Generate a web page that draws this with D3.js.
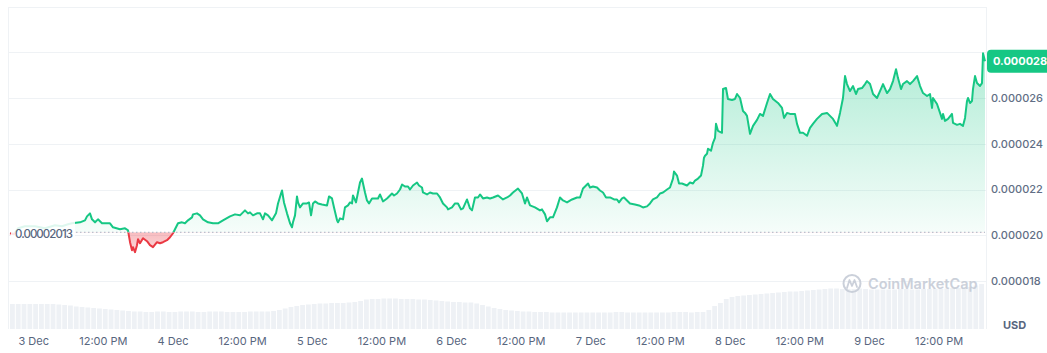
<!DOCTYPE html>
<html lang="en">
<head>
<meta charset="UTF-8">
<title>Price chart</title>
<script src="https://cdn.jsdelivr.net/npm/d3@7"></script>
<style>
  html, body { margin: 0; background: #fff; }
  text { font-family: Inter, "Noto Sans", sans-serif; }
</style>
</head>
<body>
<script>

    const width = 1047;
    const height = 353;

    // hours after 2 Dec 20:00 (UTC) and price in millionths of a USD
    const hours = [
        0, 0.69, 1.38, 2.58, 4.31, 6.03, 7.75, 8.96, 9.99, 10.68,
        12.06, 12.92, 13.27, 13.78, 14.13, 14.65, 15.16, 15.85, 16.71, 17.23,
        17.75, 18.95, 19.82, 20.33, 20.68, 21.02, 21.19, 21.54, 21.88, 22.06,
        22.40, 22.92, 23.61, 24.12, 24.64, 25.33, 25.85, 26.36, 27.05, 27.57,
        28.09, 28.43, 28.95, 29.64, 30.15, 30.67, 31.36, 31.53, 32.22, 32.74,
        33.26, 34.12, 34.98, 35.84, 36.70, 37.91, 38.77, 39.63, 40.49, 41.01,
        41.35, 41.87, 42.56, 43.08, 43.59, 43.94, 44.46, 45.15, 45.83, 46.18,
        46.70, 46.87, 47.21, 47.73, 48.25, 48.59, 48.76, 49.11, 49.45, 49.63,
        49.97, 50.49, 51.18, 51.52, 51.87, 52.21, 52.56, 53.07, 53.76, 54.62,
        54.97, 55.48, 55.83, 56.35, 56.52, 56.86, 57.38, 57.72, 58.24, 58.59,
        58.93, 59.10, 59.62, 59.96, 60.31, 60.65, 60.83, 61.17, 61.51, 61.86,
        62.38, 62.89, 63.41, 63.75, 64.27, 64.96, 65.48, 65.82, 66.17, 66.68,
        67.20, 67.55, 68.06, 68.58, 68.92, 69.44, 70.13, 70.47, 70.99, 71.16,
        71.85, 72.37, 72.89, 73.58, 74.09, 74.61, 75.30, 75.47, 76.16, 76.68,
        77.19, 77.71, 78.06, 78.75, 79.26, 79.61, 80.12, 80.64, 80.99, 81.50,
        82.19, 82.71, 83.23, 84.09, 84.95, 85.64, 86.16, 86.67, 87.53, 88.22,
        88.74, 89.08, 89.60, 90.46, 91.32, 91.67, 92.19, 92.53, 93.05, 93.56,
        94.25, 94.77, 95.29, 95.98, 96.84, 97.70, 98.22, 98.73, 99.08, 99.60,
        99.94, 100.46, 101.15, 101.66, 102.18, 102.70, 103.39, 104.08, 104.59, 104.94,
        105.46, 105.80, 106.31, 106.83, 107.69, 108.38, 109.07, 109.76, 110.28, 110.79,
        111.48, 112.00, 112.52, 113.21, 113.72, 114.24, 114.41, 114.93, 115.28, 115.79,
        116.65, 117.17, 117.69, 118.03, 118.55, 119.07, 119.41, 119.58, 119.76, 120.10,
        120.27, 120.79, 121.13, 121.48, 121.65, 121.99, 122.68, 122.86, 123.37, 123.71,
        124.41, 124.92, 125.27, 125.79, 126.30, 126.65, 126.99, 127.51, 128.03, 128.72,
        129.23, 129.75, 130.44, 130.96, 131.47, 132.33, 133.02, 133.37, 133.88, 134.40,
        135.26, 135.61, 136.12, 136.64, 137.33, 137.85, 138.36, 139.05, 139.92, 140.78,
        141.29, 141.81, 142.50, 143.02, 143.53, 143.88, 144.22, 144.74, 145.26, 145.77,
        146.12, 146.81, 147.33, 147.67, 148.19, 148.71, 149.39, 149.91, 150.43, 151.12,
        151.63, 152.15, 152.67, 153.01, 153.53, 153.87, 154.56, 155.08, 155.60, 156.29,
        156.81, 157.32, 158.01, 158.53, 158.87, 159.04, 159.73, 160.25, 160.59, 160.77,
        161.11, 161.63, 162.31, 162.49, 163.18, 163.69, 164.21, 164.56, 164.90, 165.07,
        165.42, 165.76, 165.93, 166.28, 166.62, 167.14, 167.48, 167.66, 168.00
    ];

    const priceMicro = [
        20.087, 20.043, 20.304, 20.391, 20.391, 20.304, 20.435, 20.391, 20.478, 20.522,
        20.565, 20.652, 20.826, 20.957, 20.696, 20.565, 20.696, 20.522, 20.522, 20.522,
        20.348, 20.261, 20.304, 20.217, 19.696, 19.348, 19.478, 19.261, 19.565, 19.826,
        19.652, 19.870, 19.739, 19.565, 19.478, 19.696, 19.652, 19.696, 19.783, 19.913,
        20.087, 20.261, 20.522, 20.565, 20.522, 20.652, 20.783, 20.913, 20.957, 20.870,
        20.696, 20.565, 20.522, 20.522, 20.652, 20.826, 20.913, 20.870, 21.087, 20.957,
        21.000, 20.870, 20.957, 20.957, 20.696, 20.957, 20.870, 20.652, 20.957, 21.391,
        21.826, 21.957, 21.435, 20.957, 20.522, 20.348, 20.565, 20.870, 21.696, 21.435,
        21.217, 21.391, 21.391, 21.435, 20.870, 21.391, 21.478, 21.391, 21.348, 21.304,
        21.696, 21.609, 21.217, 20.652, 20.565, 20.739, 20.696, 21.217, 21.304, 21.435,
        21.391, 21.739, 21.435, 21.870, 22.304, 22.478, 22.261, 21.870, 21.522, 21.391,
        21.609, 21.609, 21.609, 21.783, 21.478, 21.609, 21.739, 21.826, 21.739, 21.826,
        22.000, 22.217, 22.130, 22.130, 22.000, 22.174, 22.304, 22.174, 22.087, 21.870,
        21.783, 21.870, 21.826, 21.826, 21.652, 21.391, 21.217, 21.130, 21.217, 21.391,
        21.391, 21.130, 21.174, 21.565, 21.174, 21.087, 21.652, 21.652, 21.783, 21.609,
        21.652, 21.609, 21.652, 21.739, 21.565, 21.652, 21.739, 21.870, 22.043, 21.826,
        21.391, 21.652, 21.304, 21.217, 21.087, 21.130, 20.913, 20.609, 20.783, 20.783,
        21.217, 21.652, 21.522, 21.435, 21.565, 21.652, 21.652, 22.043, 22.130, 22.261,
        22.087, 22.130, 22.087, 21.957, 21.870, 21.652, 21.652, 21.565, 21.565, 21.435,
        21.609, 21.652, 21.522, 21.391, 21.348, 21.304, 21.217, 21.261, 21.391, 21.565,
        21.652, 21.826, 21.870, 22.000, 22.087, 22.478, 22.783, 22.609, 22.261, 22.261,
        22.174, 22.304, 22.261, 22.391, 22.478, 22.609, 23.043, 23.391, 23.478, 23.565,
        23.783, 23.696, 24.043, 24.261, 24.870, 24.565, 24.478, 26.391, 26.435, 25.957,
        25.913, 25.957, 26.174, 26.000, 25.435, 25.348, 25.217, 24.435, 24.783, 25.043,
        25.304, 25.217, 25.783, 26.174, 25.957, 25.783, 25.565, 25.130, 25.348, 25.304,
        25.304, 24.870, 24.478, 24.478, 24.348, 24.696, 24.870, 25.087, 25.304, 25.348,
        25.217, 25.087, 24.783, 25.348, 26.000, 26.957, 26.609, 26.304, 26.522, 26.174,
        26.391, 26.435, 26.609, 26.739, 26.609, 26.174, 26.000, 26.304, 26.609, 26.217,
        26.391, 26.739, 27.261, 26.870, 26.391, 26.609, 26.739, 26.609, 26.739, 26.957,
        26.522, 26.217, 26.087, 26.174, 25.565, 26.000, 25.739, 25.348, 25.087, 25.304,
        25.000, 25.087, 25.304, 24.913, 24.826, 24.870, 24.783, 25.130, 25.870, 26.000,
        25.783, 25.870, 26.391, 26.957, 26.652, 26.522, 26.652, 27.957, 27.609
    ];

    // hourly volume, relative units
    const volume = [
        25, 25, 25, 25, 25, 25, 25, 25, 24.5, 24,
        23.5, 22.5, 22, 21.5, 21, 20.5, 20, 19.5, 19, 18.5,
        18, 17.5, 17.5, 17, 17, 17.5, 17.5, 17, 17, 17.5,
        17.5, 17.5, 17, 17, 17.5, 17.5, 17.5, 17, 17, 17,
        17, 17.5, 17.5, 17.5, 17.5, 18, 19, 20.5, 22, 23,
        24, 24.5, 25, 25.5, 25.5, 26, 26, 26, 26.5, 27,
        28, 29.5, 30, 30, 30.5, 30.5, 30.5, 30, 30, 30,
        29.5, 29.5, 29, 28.5, 28, 27.5, 27, 27, 26.5, 26.5,
        25.5, 24, 22.5, 21, 20, 19, 18.5, 18, 17.5, 17.5,
        17, 17, 17, 16.5, 16.5, 16.5, 16.5, 16.5, 16.5, 16.5,
        16.5, 16.5, 16.5, 16.5, 17, 17, 16.5, 16.5, 16.5, 16.5,
        16.5, 16.5, 16.5, 16.5, 17, 17, 17, 16.5, 17, 17,
        19, 23, 26, 30, 32, 33, 33.5, 34, 34.5, 35,
        35.5, 36, 36.5, 37, 37.5, 37.5, 38, 38.5, 39, 39.5,
        40, 40.5, 40.5, 40, 40, 40, 40.5, 40, 39.5, 39.5,
        39.5, 39.5, 39.5, 40, 40, 39.5, 39.5, 40, 40, 40,
        40, 40.5, 41, 41, 41.5, 42, 43.5, 45
    ];

    const openPrice = 0.00002013;
    const priceTicks = [0.000018, 0.000020, 0.000022, 0.000024, 0.000026, 0.000028, 0.000030];
    const labelTicks = [0.000018, 0.000020, 0.000022, 0.000024, 0.000026];

    const up = "#16c784";
    const down = "#ea3943";
    const grid = "#eff2f5";
    const labelColor = "#616e85";

    const H = 3600e3;
    const start = Date.UTC(2023, 11, 2, 20);

    const x = d3.scaleUtc().domain([start, start + 168 * H]).range([10, 985]);
    const y = d3.scaleLinear().domain([0.000018, 0.000030]).range([281, 6.5]);
    const yVol = d3.scaleLinear().domain([0, 50]).range([329, 279]);

    const data = hours.map((h, i) => ({t: new Date(start + h * H), p: priceMicro[i] * 1e-6}));
    const last = data[data.length - 1];
    const yBase = y(openPrice);

    const svg = d3.select("body").append("svg").attr("width", width).attr("height", height);
    const defs = svg.append("defs");

    defs.append("clipPath").attr("id", "above")
        .append("rect").attr("x", 0).attr("y", 0).attr("width", width).attr("height", yBase);
    defs.append("clipPath").attr("id", "below")
        .append("rect").attr("x", 0).attr("y", yBase).attr("width", width).attr("height", height - yBase);

    const gUp = defs.append("linearGradient").attr("id", "fill-up")
        .attr("gradientUnits", "userSpaceOnUse")
        .attr("x1", 0).attr("x2", 0).attr("y1", y(0.000028)).attr("y2", yBase);
    gUp.append("stop").attr("offset", 0).attr("stop-color", up).attr("stop-opacity", 0.34);
    gUp.append("stop").attr("offset", 1).attr("stop-color", up).attr("stop-opacity", 0.04);

    const gDown = defs.append("linearGradient").attr("id", "fill-down")
        .attr("gradientUnits", "userSpaceOnUse")
        .attr("x1", 0).attr("x2", 0).attr("y1", yBase).attr("y2", y(0.0000192));
    gDown.append("stop").attr("offset", 0).attr("stop-color", down).attr("stop-opacity", 0.34);
    gDown.append("stop").attr("offset", 1).attr("stop-color", down).attr("stop-opacity", 0.18);

    // grid and frame
    svg.append("g").selectAll("line").data(priceTicks).join("line")
        .attr("x1", 8).attr("x2", 986)
        .attr("y1", d => Math.round(y(d)) + 0.5).attr("y2", d => Math.round(y(d)) + 0.5)
        .attr("stroke", grid);
    svg.append("g").selectAll("line").data([8.5, 986.5]).join("line")
        .attr("x1", d => d).attr("x2", d => d)
        .attr("y1", Math.round(y(0.00003))).attr("y2", yVol(0))
        .attr("stroke", grid);

    // volume
    const bw = x(start + H) - x(start);
    svg.append("g").attr("fill", "#eef1f5")
        .selectAll("rect").data(volume).join("rect")
        .attr("x", (d, i) => x(start + i * H))
        .attr("width", bw - 1)
        .attr("y", d => yVol(d))
        .attr("height", d => yVol(0) - yVol(d));

    // watermark
    const wm = svg.append("g").attr("opacity", 0.9);
    wm.append("circle").attr("cx", 852).attr("cy", 283.5).attr("r", 8.5)
        .attr("fill", "none").attr("stroke", "#c6ccd7").attr("stroke-width", 2);
    wm.append("path")
        .attr("d", "M847,288 L849.5,280 L852,286 L854.5,280 L857,287")
        .attr("fill", "none").attr("stroke", "#c6ccd7").attr("stroke-width", 1.8)
        .attr("stroke-linejoin", "round").attr("stroke-linecap", "round");
    wm.append("text").attr("x", 868).attr("y", 284).attr("dy", "0.35em")
        .attr("font-size", 14.5).attr("font-weight", 600).attr("fill", "#c6ccd7")
        .text("CoinMarketCap");

    // price area and line, split at the opening price
    const area = d3.area().x(d => x(d.t)).y0(yBase).y1(d => y(d.p));
    const line = d3.line().x(d => x(d.t)).y(d => y(d.p));

    svg.append("path").datum(data).attr("clip-path", "url(#above)")
        .attr("fill", "url(#fill-up)").attr("d", area);
    svg.append("path").datum(data).attr("clip-path", "url(#below)")
        .attr("fill", "url(#fill-down)").attr("d", area);

    svg.append("path").datum(data).attr("clip-path", "url(#above)")
        .attr("fill", "none").attr("stroke", up).attr("stroke-width", 2)
        .attr("stroke-linejoin", "round").attr("d", line);
    svg.append("path").datum(data).attr("clip-path", "url(#below)")
        .attr("fill", "none").attr("stroke", down).attr("stroke-width", 2)
        .attr("stroke-linejoin", "round").attr("d", line);

    // opening price line and label
    svg.append("line")
        .attr("x1", 76).attr("x2", 985).attr("y1", yBase).attr("y2", yBase)
        .attr("stroke", "#a7b1c2").attr("stroke-width", 1).attr("stroke-dasharray", "1.5,2.5");
    svg.append("rect").attr("x", 11).attr("y", yBase - 12).attr("width", 64).attr("height", 24)
        .attr("fill", "#fff").attr("opacity", 0.86);
    svg.append("text").attr("x", 15).attr("y", yBase + 2).attr("dy", "0.35em")
        .attr("font-size", 11.5).attr("font-weight", 500).attr("fill", "#58667e")
        .attr("textLength", 58)
        .text(d3.format(".8f")(openPrice));

    // right price labels
    svg.append("g").selectAll("text").data(labelTicks).join("text")
        .attr("x", 991).attr("y", d => y(d)).attr("dy", "0.35em")
        .attr("font-size", 11).attr("font-weight", 500).attr("fill", labelColor)
        .text(d => d3.format(".6f")(d));

    const yLast = y(last.p);
    svg.append("rect").attr("x", 987).attr("y", yLast - 11.5).attr("width", 64).attr("height", 23)
        .attr("rx", 4).attr("fill", up);
    svg.append("text").attr("x", 993).attr("y", yLast).attr("dy", "0.35em")
        .attr("font-size", 11).attr("font-weight", 700).attr("fill", "#fff")
        .text(d3.format(".6f")(last.p));

    svg.append("text").attr("x", 1003).attr("y", 325).attr("dy", "0.35em")
        .attr("font-size", 11).attr("font-weight", 700).attr("fill", "#58667e")
        .text("USD");

    // time axis
    const tickTimes = d3.range(0, 14).map(k => new Date(Date.UTC(2023, 11, 3) + k * 12 * H));
    const dayFmt = d3.utcFormat("%-d %b");
    const hourFmt = d3.utcFormat("%I:%M %p");

    const xAxis = svg.append("g").attr("transform", "translate(0,334)")
        .call(d3.axisBottom(x).tickValues(tickTimes).tickSize(0).tickPadding(3)
            .tickFormat(d => d.getUTCHours() === 0 ? dayFmt(d) : hourFmt(d)));
    xAxis.select(".domain").remove();
    xAxis.attr("font-family", null);
    xAxis.selectAll("text")
        .attr("font-size", 11).attr("fill", "#58667e");

</script>
</body>
</html>
